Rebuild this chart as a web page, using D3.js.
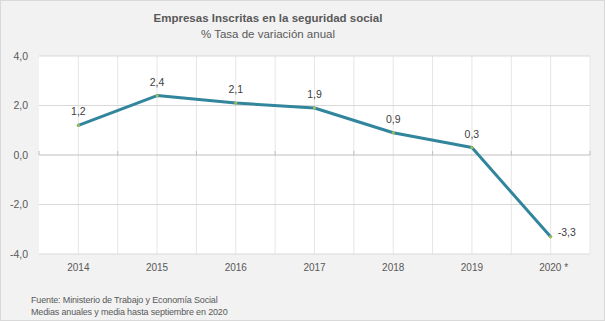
<!DOCTYPE html>
<html><head><meta charset="utf-8">
<script src="https://cdn.jsdelivr.net/npm/d3@7"></script>
<style>body{margin:0;background:#fff}svg{display:block;font-family:"Liberation Sans",Arial,sans-serif}</style>
</head><body><svg id="c" width="605" height="321"></svg>
<script>
const categories = ["2014","2015","2016","2017","2018","2019","2020 *"];
const values = [1.2, 2.4, 2.1, 1.9, 0.9, 0.3, -3.3];
const labels = ["1,2","2,4","2,1","1,9","0,9","0,3","-3,3"];
const yTicks = [-4, -2, 0, 2, 4];
const title = "Empresas Inscritas en la seguridad social";
const subtitle = "% Tasa de variación anual";
const notes = ["Fuente: Ministerio de Trabajo y Economía Social", "Medias anuales y media hasta septiembre en 2020"];

const svg = d3.select("#c");
const W = 605, H = 321;
svg.append("rect").attr("x",0.5).attr("y",0.5).attr("width",W-1).attr("height",H-1)
  .attr("fill","#f2f2f2").attr("stroke","#d9d9d9");

const L = 39, R = 590, T = 56, B = 254;
svg.append("rect").attr("x",L).attr("y",T).attr("width",R-L).attr("height",B-T).attr("fill","#fff");

const x = d3.scaleBand().domain(categories).range([L, R]);
const y = d3.scaleLinear().domain([-4, 4]).range([B, T]);
const fmt = d => d3.format(".1f")(d).replace(".", ",").replace("−","-");

const g = svg.append("g");
categories.forEach(c => {
  const cx = x(c) + x.bandwidth()/2;
  g.append("line").attr("x1",cx).attr("x2",cx).attr("y1",T).attr("y2",B).attr("stroke","#e6e6e6");
  if (c !== categories[0]) g.append("line").attr("x1",x(c)).attr("x2",x(c)).attr("y1",T).attr("y2",B).attr("stroke","#e6e6e6");
});
g.append("line").attr("x1",R).attr("x2",R).attr("y1",T).attr("y2",B).attr("stroke","#e6e6e6");
yTicks.forEach(t => {
  g.append("line").attr("x1",L).attr("x2",R).attr("y1",y(t)).attr("y2",y(t))
    .attr("stroke", t === 0 ? "#bfbfbf" : "#d9d9d9");
});
categories.concat(["_end"]).forEach((c,i) => {
  const bx = i < categories.length ? x(c) : R;
  g.append("line").attr("x1",bx).attr("x2",bx).attr("y1",y(0)-4).attr("y2",y(0)).attr("stroke","#bfbfbf");
});

yTicks.forEach(t => {
  svg.append("text").attr("x",28).attr("y",y(t)+3.5).attr("text-anchor","end")
    .attr("font-size",10.5).attr("fill","#595959").text(fmt(t));
});
categories.forEach(c => {
  svg.append("text").attr("x",x(c)+x.bandwidth()/2 + (c.length>4?3:0)).attr("y",271).attr("text-anchor","middle")
    .attr("font-size",10).attr("fill","#595959").text(c);
});

const pts = categories.map((c,i) => [x(c)+x.bandwidth()/2, y(values[i])]);
svg.append("path").attr("d", d3.line()(pts)).attr("fill","none").attr("stroke","#31859c")
  .attr("stroke-width",3).attr("stroke-linejoin","round").attr("stroke-linecap","round");
pts.forEach(p => {
  svg.append("circle").attr("cx",p[0]).attr("cy",p[1]).attr("r",1.6).attr("fill","#9bbb59");
});
pts.forEach((p,i) => {
  const last = i === pts.length-1;
  svg.append("text").attr("x", last ? p[0]+7 : p[0]).attr("y", last ? p[1]-1 : p[1]-10)
    .attr("text-anchor", last ? "start" : "middle").attr("font-size",10.5).attr("fill","#404040").text(labels[i]);
});

svg.append("text").attr("x",268).attr("y",22).attr("text-anchor","middle").attr("font-size",11.5)
  .attr("font-weight","bold").attr("fill","#595959").text(title);
svg.append("text").attr("x",268).attr("y",38).attr("text-anchor","middle").attr("font-size",11.5)
  .attr("fill","#595959").text(subtitle);
notes.forEach((n,i) => {
  svg.append("text").attr("x",31).attr("y",303+i*12).attr("font-size",9).attr("letter-spacing",-0.15)
    .attr("fill","#595959").text(n);
});
</script></body></html>
